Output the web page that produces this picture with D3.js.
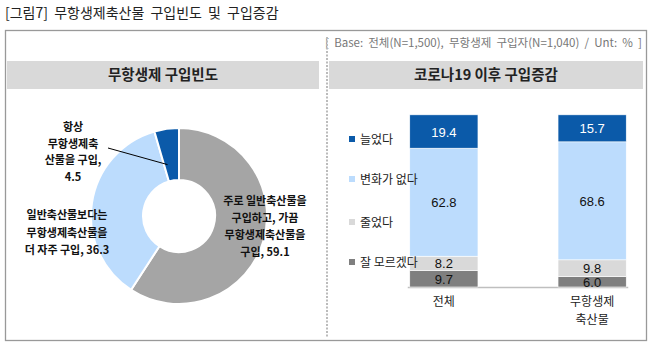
<!DOCTYPE html>
<html>
<head>
<meta charset="utf-8">
<script src="https://cdn.jsdelivr.net/npm/d3@7"></script>
<style>
  html, body { margin: 0; padding: 0; background: #fff; }
  svg { display: block; }
  .pre { white-space: pre; }
</style>
</head>
<body>
<svg id="chart" width="656" height="349"></svg>
<script>
// ---- data ----
const pieLabels = [
  ["주로 일반축산물을", "구입하고, 가끔", "무항생제축산물을", "구입, 59.1"],
  ["일반축산물보다는", "무항생제축산물을", "더 자주 구입, 36.3"],
  ["항상", "무항생제축", "산물을 구입,", "4.5"]
];
const pieValues = [59.1, 36.3, 4.5];
const pieColors = ["#a5a5a5", "#bcdcfd", "#0b5aa9"];

const barCategories = [["전체"], ["무항생제", "축산물"]];
const seriesNames = ["늘었다", "변화가 없다", "줄었다", "잘 모르겠다"];
const seriesColors = ["#0b5aa9", "#bcdcfd", "#d9d9d9", "#7f7f7f"];
const increased = [19.4, 15.7];
const unchanged = [62.8, 68.6];
const decreased = [8.2, 9.8];
const unknown = [9.7, 6.0];

const svg = d3.select("#chart");
const KR = "'Noto Sans CJK KR', 'Liberation Sans', sans-serif";
const NUM = "'Liberation Sans', 'Noto Sans CJK KR', sans-serif";

// ---- title and frame ----
svg.append("text").attr("x", 5).attr("y", 18)
  .attr("font-family", KR).attr("font-size", 14).attr("fill", "#222")
  .attr("word-spacing", 3)
  .text("[그림7] 무항생제축산물 구입빈도 및 구입증감");

svg.append("rect").attr("x", 5.5).attr("y", 30.5).attr("width", 641).attr("height", 310)
  .attr("fill", "none").attr("stroke", "#999").attr("stroke-width", 1.3);

svg.append("text").attr("class", "pre").attr("x", 642).attr("y", 47).attr("text-anchor", "end")
  .attr("font-family", KR).attr("font-size", 11.5).attr("fill", "#777")
  .text("[  Base:  전체(N=1,500),  무항생제  구입자(N=1,040)  /  Unt:  %  ]");

svg.append("line").attr("x1", 327).attr("x2", 327).attr("y1", 37).attr("y2", 337)
  .attr("stroke", "#bbb").attr("stroke-width", 2).attr("stroke-dasharray", "2,1.5");

// panel headers
const headers = [
  { x: 7, w: 312, text: "무항생제 구입빈도" },
  { x: 329, w: 314, text: "코로나19 이후 구입증감" }
];
headers.forEach(h => {
  svg.append("rect").attr("x", h.x).attr("y", 61).attr("width", h.w).attr("height", 28)
    .attr("fill", "#d9d9d9");
  svg.append("text").attr("x", h.x + h.w / 2).attr("y", 80).attr("text-anchor", "middle")
    .attr("font-family", KR).attr("font-size", 14.5).attr("font-weight", "bold").attr("fill", "#222")
    .text(h.text);
});

// ---- donut ----
const cx = 179, cy = 216;
const pie = d3.pie().sort(null).value(d => d);
const arc = d3.arc().innerRadius(36).outerRadius(88);
const gPie = svg.append("g").attr("transform", `translate(${cx},${cy})`);
gPie.selectAll("path").data(pie(pieValues)).join("path")
  .attr("d", arc)
  .attr("fill", (d, i) => pieColors[i])
  .attr("stroke", "#fff").attr("stroke-width", 2);

// leader line for the small slice
const small = pie(pieValues)[2];
const inner = d3.arc().innerRadius(60).outerRadius(60).centroid(small);
svg.append("line").attr("x1", 108).attr("y1", 148)
  .attr("x2", cx + inner[0] - 3).attr("y2", cy + inner[1] + 8)
  .attr("stroke", "#000").attr("stroke-width", 1);

const pieLabelPos = [
  { x: 265, y: 205, dy: 17 },
  { x: 67, y: 219, dy: 17.5 },
  { x: 73, y: 131, dy: 16.5 }
];
pieLabels.forEach((lines, i) => {
  const p = pieLabelPos[i];
  const t = svg.append("text").attr("text-anchor", "middle")
    .attr("font-family", KR).attr("font-size", 11).attr("font-weight", "bold").attr("fill", "#111");
  lines.forEach((l, j) => {
    t.append("tspan").attr("x", p.x).attr("y", p.y + j * p.dy).text(l);
  });
});

// ---- stacked bars ----
const rows = barCategories.map((c, i) => ({
  cat: i,
  s0: increased[i], s1: unchanged[i], s2: decreased[i], s3: unknown[i]
}));
const keys = ["s3", "s2", "s1", "s0"]; // stacked bottom-up
const stack = d3.stack().keys(keys)(rows);

const x = d3.scaleBand().domain([0, 1]).range([389, 647]).paddingInner(0.54).paddingOuter(0.14);
const y = d3.scaleLinear().domain([0, 100]).range([287, 115]);

svg.append("line").attr("x1", x(0) - 2).attr("x2", x(1) + x.bandwidth() + 2)
  .attr("y1", y(0) + 0.5).attr("y2", y(0) + 0.5).attr("stroke", "#bfbfbf").attr("stroke-width", 1.5);

stack.forEach(layer => {
  const idx = +layer.key.slice(1);
  layer.forEach((d, i) => {
    svg.append("rect")
      .attr("x", x(i)).attr("width", x.bandwidth())
      .attr("y", y(d[1])).attr("height", y(d[0]) - y(d[1]))
      .attr("fill", seriesColors[idx])
      .attr("stroke", "#fff").attr("stroke-width", 0.6);
    const v = d[1] - d[0];
    svg.append("text")
      .attr("x", x(i) + x.bandwidth() / 2)
      .attr("y", (y(d[0]) + y(d[1])) / 2 + 5)
      .attr("text-anchor", "middle")
      .attr("font-family", NUM).attr("font-size", 13)
      .attr("fill", idx === 0 ? "#fff" : "#111")
      .text(v.toFixed(1));
  });
});

// category labels
barCategories.forEach((lines, i) => {
  const t = svg.append("text").attr("text-anchor", "middle")
    .attr("font-family", KR).attr("font-size", 12).attr("fill", "#222");
  lines.forEach((l, j) => {
    t.append("tspan").attr("x", x(i) + x.bandwidth() / 2).attr("y", 306 + j * 17.5).text(l);
  });
});

// legend
const legendY = [139, 179, 222, 262];
seriesNames.forEach((n, i) => {
  svg.append("rect").attr("x", 349).attr("y", legendY[i] - 3).attr("width", 6).attr("height", 6)
    .attr("fill", seriesColors[i]);
  svg.append("text").attr("x", 360).attr("y", legendY[i] + 4.5)
    .attr("font-family", KR).attr("font-size", 12).attr("fill", "#222").text(n);
});
</script>
</body>
</html>
